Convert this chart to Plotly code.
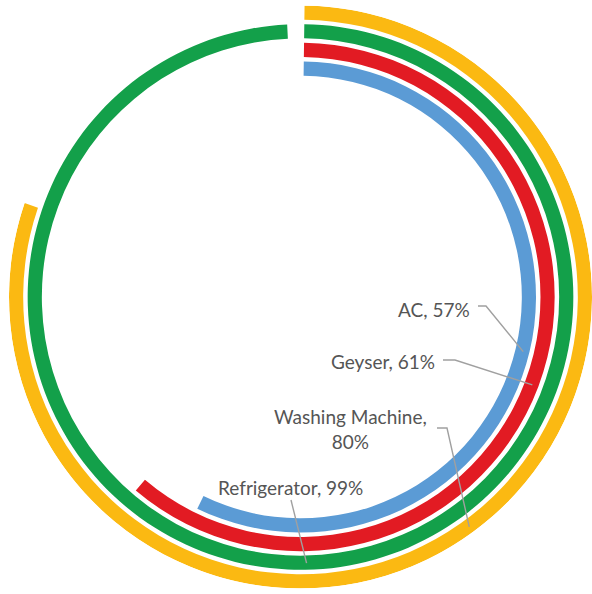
import plotly.graph_objects as go
import math

# ---- data (outer ring -> inner ring) ----
categories = ["Washing Machine", "Refrigerator", "Geyser", "AC"]
values = [80, 99, 61, 57]
colors = ["#FBB912", "#13A04A", "#E21B23", "#5B9BD5"]

W, H = 592, 594
CX, CY, R = 301, 297, 292          # pixel centre / outer radius of the polar area
PITCH, THICK = 18.7, 14.2

fig = go.Figure()
for i, (cat, v, c) in enumerate(zip(categories, values, colors)):
    outer = R - i * PITCH
    fig.add_trace(go.Barpolar(
        r=[THICK], base=[outer - THICK],
        theta=[v * 3.6 / 2], width=[v * 3.6],
        marker=dict(color=c, line=dict(width=0)),
        name=cat, hoverinfo="skip", showlegend=False,
    ))

def px(x):
    return x / W

def py(y):
    return 1 - y / H

def ring_point(idx, ang):
    rr = R - idx * PITCH - THICK / 2
    a = math.radians(ang + 0.8)
    return CX + rr * math.sin(a), CY - rr * math.cos(a)

# label layout: (text, x, y, anchor, leader start points, ring index, ring angle)
labels = [
    ("AC, 57%", 472, 309, "right", [(478, 306), (486, 306)], 3, 103),
    ("Geyser, 61%", 437, 361, "right", [(443, 360), (455, 360)], 2, 110),
    ("Washing Machine,<br>80%", 350, 429, "center", [(437, 428), (447, 428)], 0, 143),
    ("Refrigerator, 99%", 290, 487, "center", [(291, 500)], 1, 178),
]

shapes = []
annotations = []
for text, x, y, anchor, pts, idx, ang in labels:
    ex, ey = ring_point(idx, ang)
    allpts = pts + [(ex, ey)]
    path = "M " + " L ".join(f"{px(a):.5f},{py(b):.5f}" for a, b in allpts)
    shapes.append(dict(type="path", path=path, xref="paper", yref="paper",
                       line=dict(color="#A0A0A0", width=1.4)))
    annotations.append(dict(text=text, x=px(x), y=py(y), xref="paper", yref="paper",
                            xanchor=anchor, yanchor="middle", showarrow=False,
                            align="center",
                            font=dict(family="Lato", size=19, color="#555555")))

fig.update_layout(
    width=W, height=H,
    margin=dict(l=0, r=0, t=0, b=0),
    paper_bgcolor="white",
    polar=dict(
        domain=dict(x=[(CX - R) / W, 1.0], y=[1 - (CY + R) / H, 1 - (CY - R) / H]),
        bgcolor="white",
        barmode="overlay",
        radialaxis=dict(range=[0, R], visible=False),
        angularaxis=dict(direction="clockwise", rotation=89.2, visible=False),
    ),
    shapes=shapes,
    annotations=annotations,
    showlegend=False,
)

fig.write_html("out.html")
